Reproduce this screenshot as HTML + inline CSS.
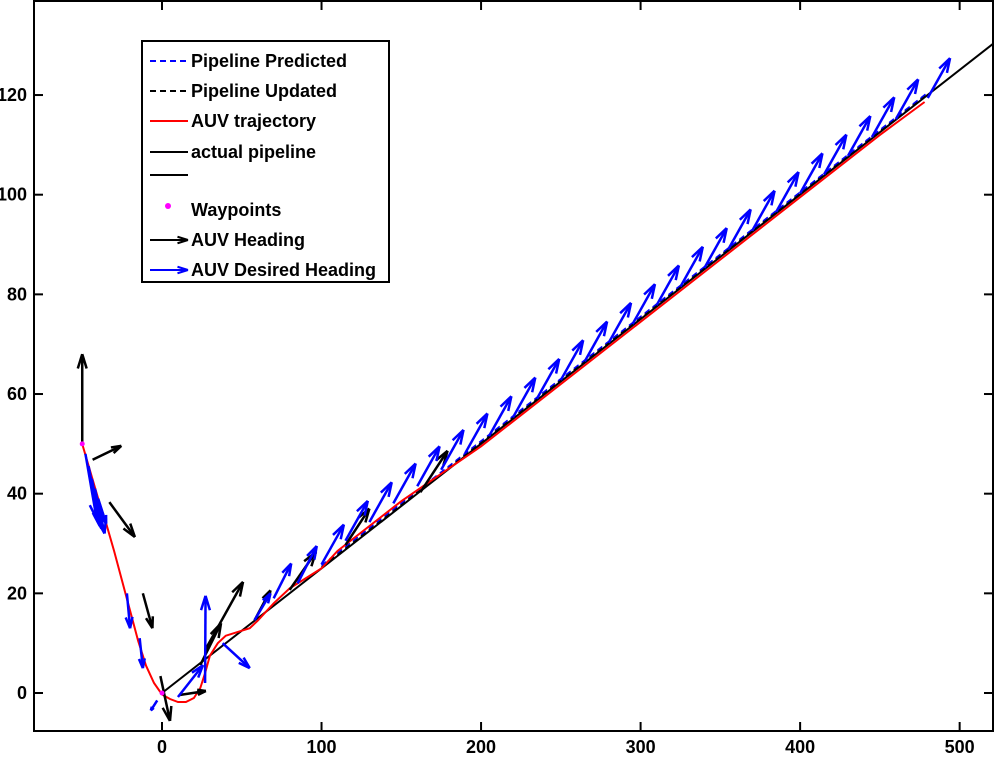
<!DOCTYPE html>
<html><head><meta charset="utf-8"><style>
html,body{margin:0;padding:0;background:#fff;}
svg text{font-family:"Liberation Sans",Arial,sans-serif;font-weight:bold;font-size:18px;fill:#000;}
</style></head><body>
<svg id="chart" width="997" height="757" xmlns="http://www.w3.org/2000/svg">
<defs><clipPath id="clip"><rect x="34" y="1" width="959" height="730"/></clipPath></defs>
<g id="marks" clip-path="url(#clip)"></g>
<g id="axes"></g>
<g id="legend"></g>
</svg>
<script>
// ---- data ----
const xTicks = [0, 100, 200, 300, 400, 500];
const yTicks = [0, 20, 40, 60, 80, 100, 120];
const pipelineX = [0, 521];
const pipelineY = [0, 130.3];
const trajX = [-50,-45,-40,-35,-30,-25,-20,-15,-10,-5,0,5,10,15,20,24,27,30,35,40,50,55,60,70,80,90,100,110,120,150,200,250,300,350,400,450,478];
const trajY = [50,44.5,39,34,28.5,22.5,16.5,10.5,5.5,2,-0.3,-1.2,-1.8,-1.8,-1,1,4,7.5,10,11.5,12.5,13,14.5,18,21,23,25,28.5,31,38.5,49.5,62,74.5,87,99.5,112,118.6];
const waypointX = [-50, 0];
const waypointY = [50, 0];
// heading arrows: tail x, tail y, dx, dy
const headX  = [-50,-43.5,-33,-12,-1,11,24,27,58,80,115,162];
const headY  = [50,46.8,38.3,20,3.4,-0.4,5.6,8.6,14.6,20.7,29.7,40.3];
const headDX = [0,18,16,6,6,16.5,13,23.8,10,16.5,15,17];
const headDY = [18,2.8,-7,-7,-9,0.8,8.4,13.7,6,7.6,7.3,8.3];
// desired heading arrows
const desX  = [-48,-46,-44,-42,-40,-22,-14,-3,10,27,38,58,70,85];
const desY  = [48,45.5,43,41,39,20,11,-1.5,-0.8,2,10,14.6,19,22];
const desDX = [7,7,6,6,5,2,2,-4,15.7,0.3,17,10,11,12];
const desDY = [-13,-12,-10,-9,-5,-7,-6,-2,6.4,17.5,-5,5.4,7,7.5];
const mainDesX = [100,115,130,145,160,175,190,205,220,235,250,265,280,295,310,325,340,355,370,385,400,415,430,445,460,480];

const NS='http://www.w3.org/2000/svg';
const X0=34,X1=993,Y0=731,Y1=1;
function sx(v){return 162+v*1.5953;}
function sy(v){return 693-v*4.983;}
function mk(tag,attrs,parent){const e=document.createElementNS(NS,tag);for(const k in attrs)e.setAttribute(k,attrs[k]);parent.appendChild(e);return e;}
const marks=document.getElementById('marks'),axes=document.getElementById('axes'),leg=document.getElementById('legend');

function poly(xs,ys,stroke,w,dash,name){
  const pts=xs.map((x,i)=>sx(x).toFixed(1)+','+sy(ys[i]).toFixed(1)).join(' ');
  const p=mk('polyline',{points:pts,fill:'none',stroke:stroke,'stroke-width':w},marks);
  if(dash)p.setAttribute('stroke-dasharray',dash);
  
  
}
function arrow(parent,x1,y1,x2,y2,color,name,w,maxL){
  const g=mk('g',{stroke:color,'stroke-width':w||2.5,fill:'none'},parent);
  
  
  mk('line',{x1:x1,y1:y1,x2:x2,y2:y2},g);
  const a=Math.atan2(y2-y1,x2-x1),L=Math.min(maxL||15,Math.hypot(x2-x1,y2-y1)*0.33);
  for(const s of [-0.3,0.3]){
    mk('line',{x1:x2,y1:y2,x2:x2-L*Math.cos(a+s),y2:y2-L*Math.sin(a+s)},g);
  }
}
// pipeline
poly(pipelineX,pipelineY,'#000',2,null,'actual-pipeline');
poly([100,480],[25.3,120.3],'#000',1.5,'6,4','pipeline-updated');
poly([100,480],[25.6,120.5],'#0000ff',1.5,'6,4','pipeline-predicted');
// trajectory
poly(trajX,trajY,'#ff0000',2,null,'auv-trajectory');
// arrows
headX.forEach((x,i)=>arrow(marks,sx(x),sy(headY[i]),sx(x+headDX[i]),sy(headY[i]+headDY[i]),'#000','heading-arrow'));
desX.forEach((x,i)=>arrow(marks,sx(x),sy(desY[i]),sx(x+desDX[i]),sy(desY[i]+desDY[i]),'#0000ff','desired-heading-arrow'));
function trajAt(x){for(let i=1;i<trajX.length;i++){if(x<=trajX[i]){const t=(x-trajX[i-1])/(trajX[i]-trajX[i-1]);return trajY[i-1]+t*(trajY[i]-trajY[i-1]);}}return trajY[trajY.length-1];}
mainDesX.forEach(x=>{const y=trajAt(x)+0.8;arrow(marks,sx(x),sy(y),sx(x+14),sy(y+8),'#0000ff','desired-heading-arrow');});
waypointX.forEach((x,i)=>{const c=mk('circle',{cx:sx(x),cy:sy(waypointY[i]),r:2.5,fill:'#ff00ff'},marks);
  
  });

// axes
const box=mk('rect',{x:X0,y:Y1,width:X1-X0,height:Y0-Y1,fill:'none',stroke:'#000','stroke-width':2},axes);


xTicks.forEach(v=>{const x=sx(v);
  mk('line',{x1:x,y1:Y0,x2:x,y2:Y0-9,stroke:'#000','stroke-width':2},axes);
  mk('line',{x1:x,y1:Y1,x2:x,y2:Y1+9,stroke:'#000','stroke-width':2},axes);
  const t=mk('text',{x:x,y:753,'text-anchor':'middle'},axes);t.textContent=v;
  
  });
yTicks.forEach(v=>{const y=sy(v);
  mk('line',{x1:X0,y1:y,x2:X0+9,y2:y,stroke:'#000','stroke-width':2},axes);
  mk('line',{x1:X1,y1:y,x2:X1-9,y2:y,stroke:'#000','stroke-width':2},axes);
  const t=mk('text',{x:27,y:y+6,'text-anchor':'end'},axes);t.textContent=v;
  
  });

// legend
const lb=mk('rect',{x:142,y:41,width:247,height:241,fill:'#fff',stroke:'#000','stroke-width':2},leg);


const entries=[['Pipeline Predicted',61,'dash','#0000ff'],['Pipeline Updated',91,'dash','#000'],['AUV trajectory',121,'line','#ff0000'],['actual pipeline',152,'line','#000'],['',175,'line','#000'],['Waypoints',210,'dot','#ff00ff'],['AUV Heading',240,'arrow','#000'],['AUV Desired Heading',270,'arrow','#0000ff']];
entries.forEach(e=>{const [label,y,kind,col]=e;
  const g=mk('g',{},leg);
  
  
  if(kind==='dash')mk('line',{x1:150,y1:y,x2:188,y2:y,stroke:col,'stroke-width':2,'stroke-dasharray':'6,4'},g);
  else if(kind==='line')mk('line',{x1:150,y1:y,x2:188,y2:y,stroke:col,'stroke-width':2},g);
  else if(kind==='dot')mk('circle',{cx:168,cy:y-4,r:3,fill:col},g);
  else arrow(g,150,y,188,y,col,'legend-arrow',2,11);
  if(label){const t=mk('text',{x:191,y:y+6},g);t.textContent=label;}
});
</script>
</body></html>
